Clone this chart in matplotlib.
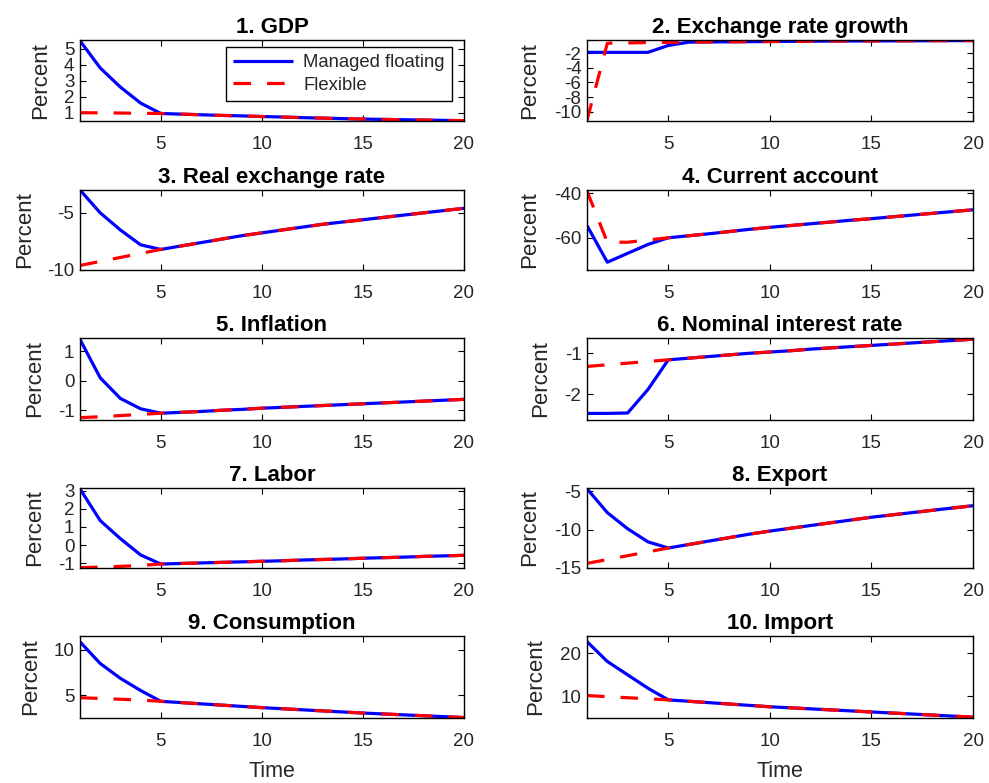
import matplotlib
matplotlib.use("Agg")
import matplotlib.pyplot as plt

plt.rcParams['font.family'] = ['Liberation Sans', 'DejaVu Sans']
plt.rcParams['axes.unicode_minus'] = False

t = list(range(1, 21))

titles = ["1. GDP", "2. Exchange rate growth", "3. Real exchange rate", "4. Current account",
          "5. Inflation", "6. Nominal interest rate", "7. Labor", "8. Export",
          "9. Consumption", "10. Import"]

gdp_managed = [5.5, 3.8, 2.6, 1.6, 0.95, 0.91, 0.87, 0.83, 0.8, 0.76, 0.73, 0.69, 0.66, 0.63, 0.6, 0.58, 0.56, 0.54, 0.52, 0.5]
gdp_flex = [1.0, 0.99, 0.98, 0.96, 0.95, 0.91, 0.87, 0.83, 0.8, 0.76, 0.73, 0.69, 0.66, 0.63, 0.6, 0.58, 0.56, 0.54, 0.52, 0.5]

exg_managed = [-1.85, -1.85, -1.85, -1.85, -0.9, -0.45, -0.42, -0.4, -0.38, -0.36, -0.34, -0.32, -0.3, -0.29, -0.28, -0.27, -0.26, -0.25, -0.24, -0.23]
exg_flex = [-11.2, -0.6, -0.55, -0.5, -0.47, -0.45, -0.42, -0.4, -0.38, -0.36, -0.34, -0.32, -0.3, -0.29, -0.28, -0.27, -0.26, -0.25, -0.24, -0.23]

rer_managed = [-3.0, -5.0, -6.5, -7.8, -8.2, -7.9, -7.6, -7.3, -7.0, -6.75, -6.5, -6.25, -6.0, -5.8, -5.6, -5.4, -5.2, -5.0, -4.8, -4.6]
rer_flex = [-9.6, -9.25, -8.9, -8.55, -8.2, -7.9, -7.6, -7.3, -7.0, -6.75, -6.5, -6.25, -6.0, -5.8, -5.6, -5.4, -5.2, -5.0, -4.8, -4.6]

ca_managed = [-54.5, -71.0, -67.0, -63.0, -60.0, -59.1, -58.2, -57.2, -56.2, -55.3, -54.5, -53.7, -52.9, -52.1, -51.4, -50.6, -49.8, -49.0, -48.2, -47.4]
ca_flex = [-39.0, -62.0, -62.0, -61.0, -60.0, -59.1, -58.2, -57.2, -56.2, -55.3, -54.5, -53.7, -52.9, -52.1, -51.4, -50.6, -49.8, -49.0, -48.2, -47.4]

inf_managed = [1.4, 0.1, -0.6, -0.95, -1.1, -1.07, -1.04, -1.0, -0.97, -0.93, -0.9, -0.87, -0.84, -0.81, -0.78, -0.75, -0.72, -0.69, -0.66, -0.63]
inf_flex = [-1.25, -1.22, -1.18, -1.14, -1.1, -1.07, -1.04, -1.0, -0.97, -0.93, -0.9, -0.87, -0.84, -0.81, -0.78, -0.75, -0.72, -0.69, -0.66, -0.63]

nir_managed = [-2.46, -2.46, -2.45, -1.88, -1.16, -1.12, -1.08, -1.04, -1.0, -0.97, -0.94, -0.9, -0.87, -0.84, -0.81, -0.78, -0.75, -0.72, -0.69, -0.66]
nir_flex = [-1.32, -1.28, -1.24, -1.2, -1.16, -1.12, -1.08, -1.04, -1.0, -0.97, -0.94, -0.9, -0.87, -0.84, -0.81, -0.78, -0.75, -0.72, -0.69, -0.66]

lab_managed = [3.1, 1.35, 0.35, -0.55, -1.05, -1.02, -0.99, -0.96, -0.93, -0.9, -0.87, -0.83, -0.8, -0.77, -0.73, -0.7, -0.67, -0.63, -0.6, -0.57]
lab_flex = [-1.25, -1.22, -1.18, -1.13, -1.05, -1.02, -0.99, -0.96, -0.93, -0.9, -0.87, -0.83, -0.8, -0.77, -0.73, -0.7, -0.67, -0.63, -0.6, -0.57]

exp_managed = [-4.7, -7.8, -9.9, -11.6, -12.4, -11.95, -11.5, -11.05, -10.6, -10.2, -9.84, -9.48, -9.12, -8.76, -8.4, -8.1, -7.8, -7.5, -7.2, -6.9]
exp_flex = [-14.4, -13.9, -13.4, -12.9, -12.4, -11.95, -11.5, -11.05, -10.6, -10.2, -9.84, -9.48, -9.12, -8.76, -8.4, -8.1, -7.8, -7.5, -7.2, -6.9]

con_managed = [10.9, 8.5, 6.85, 5.5, 4.3, 4.16, 4.02, 3.88, 3.74, 3.6, 3.48, 3.36, 3.24, 3.12, 3.0, 2.9, 2.8, 2.7, 2.6, 2.5]
con_flex = [4.7, 4.62, 4.53, 4.44, 4.3, 4.16, 4.02, 3.88, 3.74, 3.6, 3.48, 3.36, 3.24, 3.12, 3.0, 2.9, 2.8, 2.7, 2.6, 2.5]

imp_managed = [22.7, 18.1, 15.0, 11.9, 9.2, 8.88, 8.56, 8.24, 7.92, 7.6, 7.36, 7.12, 6.88, 6.64, 6.4, 6.16, 5.92, 5.68, 5.44, 5.2]
imp_flex = [10.2, 9.95, 9.7, 9.45, 9.2, 8.88, 8.56, 8.24, 7.92, 7.6, 7.36, 7.12, 6.88, 6.64, 6.4, 6.16, 5.92, 5.68, 5.44, 5.2]

managed = [gdp_managed, exg_managed, rer_managed, ca_managed, inf_managed,
           nir_managed, lab_managed, exp_managed, con_managed, imp_managed]
flexible = [gdp_flex, exg_flex, rer_flex, ca_flex, inf_flex,
            nir_flex, lab_flex, exp_flex, con_flex, imp_flex]

yticks = [[1, 2, 3, 4, 5], [-10, -8, -6, -4, -2], [-10, -5], [-60, -40], [-1, 0, 1],
          [-2, -1], [-1, 0, 1, 2, 3], [-15, -10, -5], [5, 10], [10, 20]]
ylims = [(0.48, 5.55), (-11.3, -0.15), (-10.0, -3.0), (-74.5, -38.5), (-1.33, 1.45),
         (-2.62, -0.63), (-1.27, 3.15), (-15.0, -4.6), (2.45, 11.55), (5.0, 24.0)]
xticks = [5, 10, 15, 20]

W, H = 989, 783
fig = plt.figure(figsize=(W / 100, H / 100), dpi=100)

lefts = [80, 587]
widths = [384, 386]
rows = [(40, 121), (190, 270), (338, 420), (488, 568), (636, 718)]

tick_color = '#262626'
axes = []
for i in range(10):
    r, c = divmod(i, 2)
    top, bot = rows[r]
    ax = fig.add_axes([lefts[c] / W, 1 - bot / H, widths[c] / W, (bot - top) / H])
    axes.append(ax)
    ax.plot(t, managed[i], color='#0000ff', lw=2.3, solid_capstyle='butt', label='Managed floating')
    ax.plot(t, flexible[i], color='#ff0000', lw=2.3, dashes=(5.5, 5.0), dash_capstyle='butt', label='Flexible')
    ax.set_xlim(1, 20)
    ax.set_ylim(*ylims[i])
    ax.set_xticks(xticks)
    ax.set_yticks(yticks[i])
    ax.set_title(titles[i], fontsize=16, fontweight='bold', pad=5)
    ax.set_ylabel('Percent', fontsize=16, color=tick_color, labelpad=9 if c == 0 else 10)
    ax.tick_params(direction='in', top=True, right=True, length=4, width=0.8,
                   labelsize=13.5, labelcolor=tick_color)
    ax.tick_params(axis='x', pad=10.5)
    ax.tick_params(axis='y', pad=4)
    for s in ax.spines.values():
        s.set_linewidth(1.0)
        s.set_color('black')
    if r == 4:
        ax.set_xlabel('Time', fontsize=15.5, color=tick_color, labelpad=8)

leg = axes[0].legend(loc='upper right', bbox_to_anchor=(452 / W, 1 - 47 / H),
                     bbox_transform=fig.transFigure, borderaxespad=0,
                     fontsize=13.3, handlelength=3.25, handletextpad=0.55,
                     labelspacing=0.3, borderpad=0.4, fancybox=False,
                     framealpha=1, edgecolor='black')
leg.get_frame().set_linewidth(1.0)
for txt in leg.get_texts():
    txt.set_color(tick_color)

fig.savefig('out.png', dpi=100)
